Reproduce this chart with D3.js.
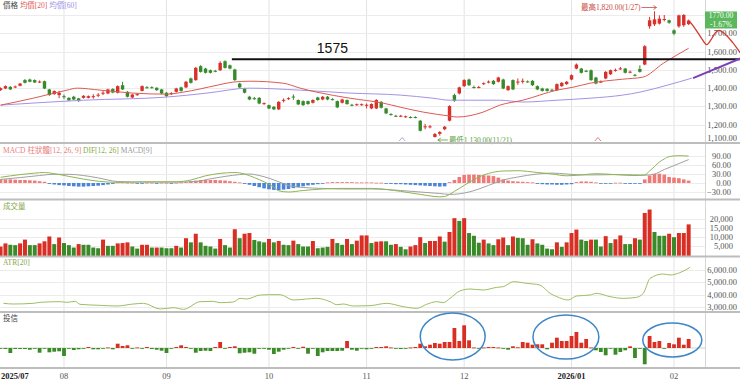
<!DOCTYPE html>
<html><head><meta charset="utf-8">
<script src="https://cdn.jsdelivr.net/npm/d3@7"></script>
<style>body{margin:0;background:#fff}svg{display:block}text{font-family:"Liberation Serif","Noto Sans CJK TC",serif}</style>
</head><body><svg id="c" width="740" height="381"></svg>
<script>
// ---------- DATA ----------
// daily candles [open, high, low, close], 2025/07 .. 2026/02
const candles = [
[1389,1404,1385,1400],[1398,1415,1395,1411],[1407,1411,1390,1393],[1404,1414,1400,1409],[1413,1428,1410,1425],
[1444,1450,1426,1429],[1447,1452,1432,1435],[1444,1448,1428,1431],[1434,1442,1428,1436],[1438,1441,1395,1398],
[1393,1396,1358,1362],[1367,1388,1364,1384],[1362,1385,1345,1375],[1356,1365,1340,1351],[1347,1350,1330,1333],
[1353,1358,1335,1338],[1344,1347,1325,1329],[1347,1362,1343,1358],[1347,1360,1344,1356],[1353,1367,1342,1356],
[1360,1373,1351,1364],[1371,1384,1362,1375],[1371,1397,1367,1393],[1395,1400,1372,1376],[1375,1415,1371,1411],
[1416,1435,1390,1393],[1380,1384,1349,1353],[1349,1369,1345,1365],[1364,1372,1358,1367],[1385,1415,1382,1411],
[1405,1411,1397,1402],[1405,1410,1398,1402],[1402,1405,1385,1389],[1393,1396,1367,1371],[1375,1378,1352,1356],
[1369,1378,1362,1373],[1380,1402,1376,1398],[1404,1408,1381,1385],[1404,1440,1400,1435],[1453,1458,1425,1429],
[1444,1516,1440,1511],[1520,1526,1485,1489],[1507,1511,1480,1484],[1498,1502,1480,1484],[1495,1500,1487,1491],
[1498,1547,1494,1538],[1547,1552,1507,1511],[1525,1529,1503,1507],[1502,1506,1440,1444],[1425,1429,1400,1404],
[1398,1402,1371,1375],[1353,1358,1334,1338],[1345,1352,1336,1342],[1347,1351,1312,1316],[1314,1322,1309,1318],
[1307,1310,1285,1289],[1298,1302,1280,1284],[1284,1329,1280,1325],[1333,1344,1322,1336],[1342,1350,1336,1345],
[1354,1366,1335,1351],[1335,1338,1307,1311],[1329,1333,1303,1307],[1329,1332,1309,1313],[1320,1339,1316,1335],
[1349,1353,1331,1335],[1338,1357,1334,1353],[1353,1357,1334,1338],[1340,1345,1333,1337],[1329,1332,1291,1295],
[1320,1342,1316,1338],[1335,1338,1309,1313],[1309,1314,1301,1306],[1309,1316,1303,1312],[1309,1316,1304,1312],
[1305,1316,1289,1309],[1289,1317,1285,1313],[1289,1340,1285,1335],[1325,1329,1289,1293],[1289,1292,1258,1262],
[1258,1263,1250,1255],[1249,1254,1242,1246],[1246,1254,1242,1249],[1243,1250,1238,1246],[1242,1246,1235,1239],
[1242,1246,1235,1239],[1222,1226,1163,1167],[1187,1205,1175,1191],[1187,1198,1180,1191],[1133,1155,1130,1149],
[1150,1165,1140,1160],[1175,1193,1170,1189],[1222,1306,1218,1302],[1362,1370,1325,1331],[1371,1408,1366,1404],
[1411,1449,1406,1444],[1447,1452,1412,1416],[1406,1414,1398,1403],[1403,1412,1399,1406],[1423,1432,1418,1427],
[1432,1442,1426,1436],[1440,1445,1418,1422],[1435,1462,1431,1458],[1447,1452,1394,1398],[1389,1415,1385,1411],
[1444,1448,1389,1393],[1433,1453,1418,1436],[1436,1453,1425,1440],[1437,1442,1430,1434],[1440,1444,1412,1416],
[1411,1415,1389,1393],[1398,1402,1381,1385],[1396,1400,1381,1385],[1391,1396,1384,1388],[1389,1426,1385,1422],
[1411,1433,1407,1429],[1422,1439,1418,1435],[1447,1475,1443,1471],[1507,1535,1503,1529],[1507,1511,1480,1484],
[1495,1500,1487,1491],[1498,1502,1440,1444],[1458,1462,1421,1425],[1433,1442,1428,1436],[1453,1493,1449,1489],
[1476,1502,1472,1498],[1496,1507,1490,1500],[1505,1516,1500,1508],[1507,1511,1480,1484],[1487,1496,1482,1490],
[1473,1478,1464,1469],[1505,1525,1485,1489],[1529,1635,1525,1629],[1738,1790,1725,1771],[1749,1820,1740,1776],
[1753,1798,1748,1780],[1775,1800,1765,1778],[1771,1775,1752,1758],[1716,1722,1690,1698],[1738,1802,1730,1798],
[1744,1805,1735,1800],[1750,1775,1745,1770]
];
// moving averages [bar index, price]
const ma20 = [[0,1307],[6.7,1345],[13.6,1389],[15.7,1400],[20.4,1389],[27.1,1373],[34.1,1367],[37.4,1378],[44.4,1416],[47.6,1433],[51.1,1438],[57.9,1427],[61.4,1400],[64.8,1378],[71.6,1345],[78.4,1318],[81.9,1296],[86.6,1269],[92.1,1247],[93.5,1242],[98.9,1269],[102.3,1307],[107,1334],[114,1389],[117.3,1405],[120.8,1427],[127.5,1449],[131.6,1460],[135.8,1536],[141,1618]];
const ma60 = [[0,1307],[17,1334],[34,1351],[42.3,1373],[51,1400],[61.4,1389],[71.6,1373],[81.9,1362],[88.6,1345],[92.1,1334],[102.3,1334],[107,1324],[114,1334],[120.8,1345],[127.5,1362],[131,1378],[136.6,1416],[141.7,1455]];
// MACD histogram per bar
const macdHist = [13,12,12,11,10,10,9,8,6,4,
-3,-5,-7,-8,-10,-11,-12,-12,-11,-10,-9,-7,-5,-3,
2,2,1,1,-1,-1,1,1,-1,1,0.5,-1,1,2,
3,6,8,10,10,10,10,9,8,6,4,2,
-3,-6,-10,-14,-18,-21,-23,-24,-22,-20,-17,-14,-11,-8,-6,-4,-2,
2,3,3,3,3,3,2,2,2,2,1,1,
-2,-3,-4,-4,-5,-6,-7,-8,-9,-10,-11,-12,-11,
3,10,20,27,28,28,27,26,25,23,18,12,8,6,5,4,3,2,
-3,-4,-5,-5,-6,-6,-5,-4,
3,5,5,4,2,
-1,-2,-2,
1,1,
-2,-3,-2,-1,
12,25,30,31,28,20,18,16,12,8];
const difLine = [[0,19],[4,28],[7,33],[9,35],[11,31],[14,22],[17,13],[20,6],[24,2],[30,4],[36,4],[39,10],[42,24],[45,32],[48,35],[50,30],[52,18],[54,4],[56,-14],[57,-26],[59,-30],[62,-25],[66,-20],[70,-18],[76,-18],[82,-28],[86,-38],[90,-46],[91,-45],[92,-38],[93,-28],[94,-18],[95,-8],[96,2],[98,20],[100,32],[103,40],[106,41],[110,35],[113,30],[116,24],[119,27],[122,31],[126,28],[130,25],[132,27],[133,40],[134,55],[135,70],[136,80],[137,88],[139,91],[141,90]];
const signalLine = [[0,12],[4,18],[8,25],[11,29],[14,29],[17,25],[20,17],[24,5],[30,3],[36,3],[40,5],[43,14],[46,22],[49,28],[51,30],[53,25],[55,16],[57,4],[59,-8],[62,-15],[66,-18],[70,-20],[76,-20],[82,-25],[86,-30],[90,-35],[92,-38],[94,-36],[96,-30],[98,-20],[100,-8],[103,10],[106,20],[110,30],[113,33],[116,30],[119,27],[122,27],[126,28],[130,27],[132,26],[134,30],[136,45],[138,58],[141,78]];
// volume (lots) and whether the day closed up (1) or down (0)
const volumes = [4900,6630,5870,5680,6630,8710,5680,5680,6630,7770,
10420,6250,9850,6820,5680,4360,6250,5870,5870,4360,
3980,8710,5300,5300,6630,6820,7200,4920,3790,5870,
5870,4360,4360,4360,3980,3980,5300,4360,9470,7200,
11930,7200,5300,4920,3790,9090,5680,4360,14390,9470,
11930,12310,8520,7770,7200,9090,7200,7950,5870,5680,
8140,6250,4920,4920,7950,3980,4360,4730,9090,6820,
5870,9090,6250,8140,10990,10990,6820,7580,7770,7770,
5870,6250,4730,3410,4920,5680,10040,6820,7950,7950,
10420,7580,12880,20460,18940,20460,12310,10800,7010,8710,
6630,5680,8900,9850,5680,10420,9660,9470,5870,8900,
6630,5870,3790,3410,7200,4730,7200,12310,14200,8710,
7950,8710,8710,4920,10600,6820,8900,10990,6250,6250,
9470,8710,23300,25190,12880,10800,10800,11930,10040,12310,
12310,17050];
const volumeUp = [1,1,0,0,1,1,0,0,1,1, 1,0,1,0,0,0,1,0,0,0, 0,1,0,0,1,1,1,0,0,1, 1,0,1,0,0,0,1,0,1,0,
1,0,0,0,0,1,0,0,1,0, 1,1,0,0,0,1,0,1,0,0, 1,0,0,0,1,0,0,0,1,0, 0,1,0,1,1,1,0,1,1,0,
0,1,0,0,1,1,1,0,1,1, 1,0,1,1,0,1,0,0,0,1, 0,0,1,1,0,1,0,0,0,1, 0,0,0,0,1,0,1,1,1,0,
0,1,0,0,1,0,1,1,0,0, 1,0,1,1,0,0,0,1,0,1, 1,1];
// ATR[20] [bar index, value]
const atrLine = [[0.6,3293],[2.6,3240],[6.7,3293],[8.1,3373],[12.2,3427],[13.6,3373],[15.3,3453],[16.3,3213],[20.4,3133],[23.8,3080],[27.2,3240],[29.3,3293],[32.7,2840],[35.4,2946],[37.5,2813],[40.9,3427],[43.6,3453],[45,3347],[47.7,3400],[49.1,3693],[50.4,3640],[53.2,3960],[55.2,3986],[57.3,3986],[60,3560],[62.7,3640],[64.8,3693],[67.5,3427],[68.9,3186],[70.2,3240],[72.3,3080],[75.7,3106],[79.1,3293],[82.5,3027],[85.3,2893],[87.3,3213],[89.4,3427],[90.7,3347],[92.1,3693],[94.1,4280],[96.2,4440],[98.9,4360],[101.7,4573],[103,4627],[105.1,5027],[107.8,4893],[110.5,4760],[112.6,4093],[114,3827],[116.3,3560],[118,3880],[120.8,3960],[122.1,4093],[124.9,3827],[127.6,3693],[130.3,3773],[131.7,4093],[133.1,5293],[135.8,5640],[137.2,5560],[139.2,5747],[141.3,6173]];
// 投信 net buy/sell (lots)
const trust = [-25,-50,-250,-50,-50,-50,-85,-25,-235,-25,
-215,-185,-165,-400,-25,-100,-65,-25,50,-65,
-65,-25,25,-65,215,100,135,-25,25,-25,
50,-50,-85,-135,-250,-25,50,135,50,-25,
-235,-150,-135,-150,50,300,-25,50,85,-265,
-235,-215,-285,-25,-25,-85,-300,-185,-85,-25,
50,-25,65,-285,-25,-400,-215,-150,-150,-150,
-135,350,-85,-135,-25,-65,-25,50,50,85,
25,-25,-50,-25,25,50,215,85,165,250,
215,300,300,1000,350,1135,385,25,-25,25,
50,50,25,-25,-85,85,35,300,265,165,
185,185,-65,265,515,350,350,600,800,265,
450,25,-115,-200,-365,-25,-335,-200,-115,85,
-500,-25,-815,600,300,350,-35,250,185,515,
165,450];
// month boundaries [first bar index, label]
const months = [[0,"2025/07"],[13,"08"],[34,"09"],[55,"10"],[75,"11"],[95,"12"],[117,"2026/01"],[138,"02"]];
const priceTicks = [1800,1700,1600,1500,1400,1300,1200,1100];
const macdTicks = [90,60,30,0,-30];
const volTicks = [20000,15000,10000,5000];
const atrTicks = [6000,5000,4000,3000];
const lastPrice = 1770, lastChange = "-1.67%";
const highInfo = {i:134, text:"最高1,820.00(1/27)"};
const lowInfo = {i:89, text:"最低1,130.00(11/21)", price:1130};
// hand-drawn annotations
const resistance = {label:"1575", level:1558, from:47.4, to:151.6};
const projection = [[141.3,1762],[142.6,1715],[143.7,1670],[144.7,1638],[145.6,1665],[146.4,1700],[147.2,1716],[148.5,1695],[150,1650],[151.6,1592]];
const trendLine = [[141.9,1455],[151.6,1562]];
const circles = [[86,99.3,1750,-600],[109.1,122.6,1650,-550],[131.6,143.7,1250,-450]];
const signalMarks = [82.3,122.4];

// ---------- CHART ----------
const svg = d3.select("#c");
const PR = 705;
const x = d3.scaleLinear().domain([-0.115,144.35]).range([0,PR]);
const P = {price:[0,143], macd:[143,199.5], vol:[199.5,256.5], atr:[256.5,312], trust:[312,368]};
const yP = d3.scaleLinear().domain([1100,1800]).range([143,15]);
const yM = d3.scaleLinear().domain([-30,90]).range([192,156]);
const yV = d3.scaleLinear().domain([0,20000]).range([255.5,219]);
const yA = d3.scaleLinear().domain([3000,6000]).range([307,269.5]);
const yT = d3.scaleLinear().domain([-1000,1000]).range([368,328]);
const RED="#d8302a", GRN="#378a2a";

const defs = svg.append("defs");
Object.entries(P).forEach(([k,[t,b]])=>{
  defs.append("clipPath").attr("id","clip-"+k).append("rect").attr("x",0).attr("y",t+1).attr("width",PR).attr("height",b-t-1);
});
const g = svg.append("g");
// vertical month grid
Object.entries(P).forEach(([k,[t,b]])=>{
  g.selectAll(null).data(months.slice(1)).enter().append("line")
   .attr("x1",d=>x(d[0])).attr("x2",d=>x(d[0])).attr("y1",t).attr("y2",b)
   .attr("stroke","#e3e3e3").attr("stroke-width",1);
});
function hgrid(ticks, y, t, b){
  g.selectAll(null).data(ticks.filter(v=>y(v)>t+2&&y(v)<b-1)).enter().append("line")
   .attr("x1",0).attr("x2",PR).attr("y1",d=>Math.round(y(d))+0.5).attr("y2",d=>Math.round(y(d))+0.5)
   .attr("stroke","#ececec");
}
hgrid(priceTicks,yP,...P.price); hgrid(macdTicks,yM,...P.macd); hgrid(volTicks,yV,...P.vol); hgrid(atrTicks,yA,...P.atr);
// axis right border
g.append("line").attr("x1",PR+0.5).attr("x2",PR+0.5).attr("y1",0).attr("y2",368).attr("stroke","#d6d6d6");

// right axis labels
function rlabels(ticks,y,fmt,xr,t,b){
  g.selectAll(null).data(ticks).enter().append("text")
   .attr("x",xr).attr("y",d=>Math.min(y(d),b-5)+3).attr("text-anchor","end")
   .attr("font-size",8.5).attr("fill","#555").text(fmt);
}
rlabels(priceTicks.slice(1),yP,d=>d3.format(",.2f")(d),737,...P.price);
rlabels(macdTicks,yM,d=>d3.format(".2f")(d),731,...P.macd);
rlabels(volTicks,yV,d=>d3.format(",")(d),733,...P.vol);
rlabels(atrTicks,yA,d=>d3.format(",.2f")(d),737,...P.atr);

// ---- price panel
const pg = svg.append("g").attr("clip-path","url(#clip-price)");
const idx = d3.range(candles.length);
const cw = 3.4;
pg.selectAll(".wick").data(idx).enter().append("line")
  .attr("x1",i=>x(i)).attr("x2",i=>x(i)).attr("y1",i=>yP(candles[i][1])).attr("y2",i=>yP(candles[i][2]))
  .attr("stroke",i=>candles[i][3]>=candles[i][0]?RED:GRN).attr("stroke-width",1);
pg.selectAll(".body").data(idx).enter().append("rect")
  .attr("x",i=>x(i)-cw/2).attr("width",cw)
  .attr("y",i=>yP(Math.max(candles[i][0],candles[i][3])))
  .attr("height",i=>Math.max(1,Math.abs(yP(candles[i][0])-yP(candles[i][3]))))
  .attr("fill",i=>candles[i][3]>=candles[i][0]?RED:GRN);
const lineXY = d3.line().x(d=>x(d[0])).curve(d3.curveMonotoneX);
pg.append("path").attr("d",lineXY.y(d=>yP(d[1]))(ma60)).attr("fill","none").attr("stroke","#a393e6").attr("stroke-width",1);
pg.append("path").attr("d",lineXY.y(d=>yP(d[1]))(ma20)).attr("fill","none").attr("stroke","#dd5a55").attr("stroke-width",1);
// signal chevrons
g.selectAll(null).data(signalMarks).enter().append("path")
  .attr("d",(d)=>`M${x(d)-3},${141} L${x(d)},${137.5} L${x(d)+3},${141}`)
  .attr("fill","none").attr("stroke",(d,i)=>i?"#e06060":"#9a8fe0").attr("stroke-width",0.8);

// titles
function title(parts,yb){
  const t = svg.append("text").attr("x",3).attr("y",yb).attr("font-size",7.5);
  parts.forEach(([s,c])=>t.append("tspan").attr("fill",c).text(s));
}
title([["價格 ","#444"],["均價[20] ","#e05a5a"],["均價[60]","#9b8ee8"]],8);
title([["MACD 柱狀體[12, 26, 9] ","#e88080"],["DIF[12, 26] ","#86ad48"],["MACD[9]","#9a9a9a"]],152.5);
title([["成交量","#86a84a"]],208.5);
title([["ATR[20]","#86a84a"]],265);
title([["投信","#444"]],320.5);

// high / low labels
const hx = x(highInfo.i);
svg.append("text").attr("x",hx-14).attr("y",10).attr("text-anchor","end").attr("font-size",7.5).attr("fill","#c94a42").text(highInfo.text);
svg.append("path").attr("d",`M${hx-13},7.5 L${hx+2},7.5 M${hx-1},5.5 L${hx+2},7.5 L${hx-1},9.5`).attr("stroke","#c94a42").attr("fill","none").attr("stroke-width",0.8);
const lx = x(lowInfo.i), ly = yP(lowInfo.price)+2.5;
svg.append("path").attr("d",`M${lx+3},${ly} L${lx+13},${ly} M${lx+6},${ly-2} L${lx+3},${ly} L${lx+6},${ly+2}`).attr("stroke","#5a9e3a").attr("fill","none").attr("stroke-width",0.8);
svg.append("text").attr("x",lx+14).attr("y",ly+2.5).attr("font-size",7.5).attr("fill","#5a9e3a").text(lowInfo.text);

// last price box
const by = yP(lastPrice);
svg.append("rect").attr("x",PR).attr("y",by-9).attr("width",32).attr("height",17).attr("fill","#5cb85c");
svg.append("text").attr("x",PR+16).attr("y",by-2).attr("text-anchor","middle").attr("font-size",7.5).attr("fill","#fff").text(d3.format(".2f")(lastPrice));
svg.append("text").attr("x",PR+16).attr("y",by+6.5).attr("text-anchor","middle").attr("font-size",7.5).attr("fill","#fff").text(lastChange);

// ---- MACD panel
const mg = svg.append("g").attr("clip-path","url(#clip-macd)");
mg.selectAll(null).data(idx).enter().append("rect")
  .attr("x",i=>x(i)-1.8).attr("width",3.6)
  .attr("y",i=>Math.min(yM(0),yM(macdHist[i]))).attr("height",i=>Math.max(0.8,Math.abs(yM(macdHist[i])-yM(0))))
  .attr("fill",i=>macdHist[i]>=0?"#ee7a78":"#4b85d8");
mg.append("path").attr("d",lineXY.y(d=>yM(d[1]))(signalLine)).attr("fill","none").attr("stroke","#a0a0a0").attr("stroke-width",1);
mg.append("path").attr("d",lineXY.y(d=>yM(d[1]))(difLine)).attr("fill","none").attr("stroke","#8db553").attr("stroke-width",1);

// ---- volume panel
const vg = svg.append("g").attr("clip-path","url(#clip-vol)");
vg.selectAll(null).data(idx).enter().append("rect")
  .attr("x",i=>x(i)-2).attr("width",4)
  .attr("y",i=>yV(volumes[i])).attr("height",i=>256.5-yV(volumes[i]))
  .attr("fill",i=>volumeUp[i]?"#d82e24":"#3b8a29");

// ---- ATR panel
const ag = svg.append("g").attr("clip-path","url(#clip-atr)");
ag.append("path").attr("d",lineXY.y(d=>yA(d[1]))(atrLine)).attr("fill","none").attr("stroke","#9dbd62").attr("stroke-width",1);

// ---- 投信 panel
const tg = svg.append("g").attr("clip-path","url(#clip-trust)");
tg.append("line").attr("x1",0).attr("x2",PR).attr("y1",yT(0)).attr("y2",yT(0)).attr("stroke","#c9dcc0");
tg.selectAll(null).data(idx).enter().append("rect")
  .attr("x",i=>x(i)-1.9).attr("width",3.8)
  .attr("y",i=>Math.min(yT(0),yT(trust[i]))).attr("height",i=>Math.max(0.8,Math.abs(yT(trust[i])-yT(0))))
  .attr("fill",i=>trust[i]>=0?"#d82e24":"#3b8a29");

// separators
[143,199.5,256.5,312,368].forEach(yy=>{
  svg.append("line").attr("x1",0).attr("x2",740).attr("y1",yy).attr("y2",yy).attr("stroke","#bdbdbd").attr("stroke-width",2);
});

// x-axis labels
svg.selectAll(null).data(months).enter().append("text")
  .attr("x",(d,i)=>i===0?1:x(d[0])).attr("y",379)
  .attr("text-anchor",(d,i)=>i===0?"start":"middle")
  .attr("font-size",8.5).attr("font-weight",d=>d[1].length>2?"bold":"normal")
  .attr("fill",d=>d[1].length>2?"#222":"#555").text(d=>d[1]);

// ---- hand-drawn annotations
svg.append("line").attr("x1",x(resistance.from)).attr("x2",x(resistance.to))
  .attr("y1",yP(resistance.level)).attr("y2",yP(resistance.level)).attr("stroke","#111").attr("stroke-width",1.8);
svg.append("text").attr("x",x(68)).attr("y",yP(resistance.level)-6.5).attr("text-anchor","middle")
  .attr("font-size",14).attr("fill","#111").style("font-family","'Liberation Sans',Arial,sans-serif").text(resistance.label);
svg.append("path").attr("d",lineXY.y(d=>yP(d[1]))(projection)).attr("fill","none").attr("stroke","#d23a30").attr("stroke-width",1.3);
svg.append("path").attr("d",d3.line().x(d=>x(d[0])).y(d=>yP(d[1]))(trendLine)).attr("fill","none").attr("stroke","#7b3fb8").attr("stroke-width",2);
svg.selectAll(null).data(circles).enter().append("ellipse")
  .attr("cx",d=>(x(d[0])+x(d[1]))/2).attr("cy",d=>(yT(d[2])+yT(d[3]))/2)
  .attr("rx",d=>(x(d[1])-x(d[0]))/2).attr("ry",d=>(yT(d[3])-yT(d[2]))/2)
  .attr("fill","none").attr("stroke","#3d86c8").attr("stroke-width",1.5);
</script></body></html>
